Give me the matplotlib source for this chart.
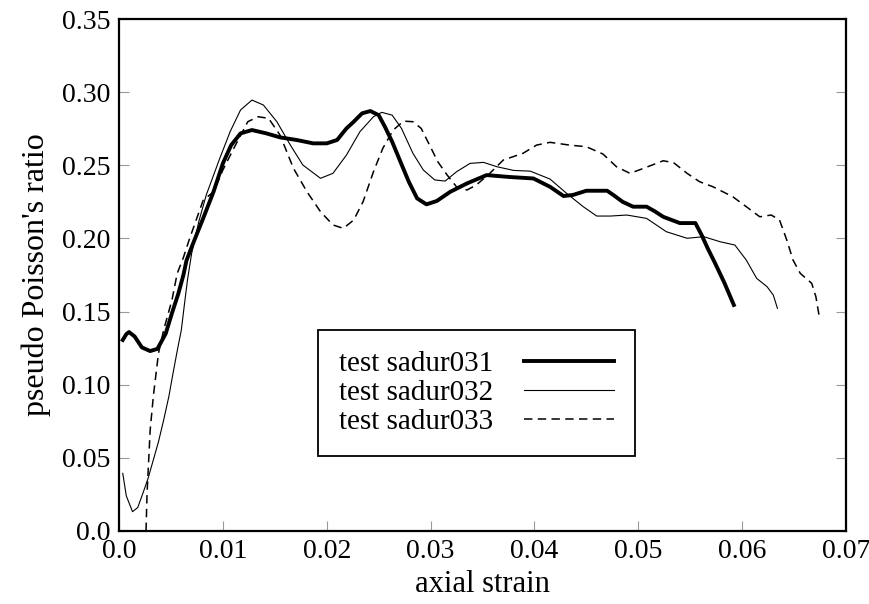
import numpy as np
import matplotlib
matplotlib.use('Agg')
import matplotlib.pyplot as plt

# sadur031 (thick line)
strain_031 = [0.00036, 0.0007, 0.00096, 0.0015, 0.0022, 0.0030, 0.0037, 0.0045, 0.0051,
              0.0057, 0.0062, 0.0065, 0.0072, 0.0081, 0.0091, 0.0100, 0.0108, 0.0117,
              0.0128, 0.0142, 0.0155, 0.0171, 0.0187, 0.0200, 0.0210, 0.0219, 0.0226,
              0.0234, 0.0242, 0.0250, 0.0256, 0.0263, 0.0271, 0.0279, 0.0287, 0.0296,
              0.0306, 0.0319, 0.0335, 0.0354, 0.0376, 0.0399, 0.0415, 0.0428, 0.0437,
              0.0450, 0.0463, 0.0470, 0.0476, 0.0485, 0.0495, 0.0508, 0.0516, 0.0524,
              0.0540, 0.0555, 0.0561, 0.0567, 0.0574, 0.0583, 0.0592]
ratio_031 = [0.1306, 0.1345, 0.1360, 0.1330, 0.1255, 0.1230, 0.1245, 0.1350, 0.1490,
             0.1620, 0.1750, 0.1850, 0.1978, 0.2137, 0.2319, 0.2513, 0.2638, 0.2718,
             0.2741, 0.2718, 0.2691, 0.2673, 0.2650, 0.2650, 0.2673, 0.2752, 0.2798,
             0.2855, 0.2871, 0.2843, 0.2764, 0.2661, 0.2524, 0.2388, 0.2274, 0.2233,
             0.2256, 0.2319, 0.2376, 0.2433, 0.2420, 0.2410, 0.2353, 0.2290, 0.2297,
             0.2326, 0.2326, 0.2326, 0.2297, 0.2250, 0.2217, 0.2217, 0.2185, 0.2148,
             0.2105, 0.2105, 0.2023, 0.1930, 0.1830, 0.1695, 0.1545]

# sadur032 (thin line)
strain_032 = [0.00036, 0.0007, 0.0013, 0.0018, 0.0023, 0.0028, 0.0033, 0.0038, 0.0043,
              0.0048, 0.0052, 0.0056, 0.0060, 0.0063, 0.0066, 0.0070, 0.0077, 0.0084,
              0.0097, 0.0107, 0.0117, 0.0128, 0.0139, 0.0152, 0.0165, 0.0177, 0.0194,
              0.0206, 0.0219, 0.0232, 0.0245, 0.0253, 0.0263, 0.0272, 0.0283, 0.0293,
              0.0304, 0.0314, 0.0325, 0.0338, 0.0351, 0.0364, 0.0380, 0.0396, 0.0415,
              0.0431, 0.0447, 0.0460, 0.0473, 0.0489, 0.0508, 0.0527, 0.0547, 0.0563,
              0.0579, 0.0593, 0.0604, 0.0614, 0.0624, 0.0630, 0.0634]
ratio_032 = [0.0394, 0.0240, 0.0132, 0.0160, 0.0258, 0.0360, 0.0485, 0.0610, 0.0759,
             0.0920, 0.1078, 0.1230, 0.1374, 0.1550, 0.1720, 0.1900, 0.2120, 0.2297,
             0.2547, 0.2730, 0.2878, 0.2946, 0.2912, 0.2798, 0.2638, 0.2502, 0.2411,
             0.2445, 0.2570, 0.2730, 0.2832, 0.2862, 0.2843, 0.2752, 0.2582, 0.2468,
             0.2400, 0.2392, 0.2456, 0.2513, 0.2520, 0.2490, 0.2465, 0.2460, 0.2406,
             0.2308, 0.2217, 0.2153, 0.2153, 0.2160, 0.2137, 0.2046, 0.2001, 0.2012,
             0.1977, 0.1955, 0.1852, 0.1727, 0.1670, 0.1613, 0.1522]

# sadur033 (dashed line)
strain_033 = [0.0026, 0.0027, 0.0030, 0.0033, 0.0038, 0.0043, 0.0051, 0.0056, 0.0062,
              0.0068, 0.0081, 0.0091, 0.0100, 0.0110, 0.0124, 0.0134, 0.0144, 0.0155,
              0.0168, 0.0181, 0.0194, 0.0206, 0.0216, 0.0226, 0.0235, 0.0245, 0.0254,
              0.0264, 0.0274, 0.0283, 0.0291, 0.0299, 0.0307, 0.0316, 0.0325, 0.0335,
              0.0344, 0.0357, 0.0370, 0.0389, 0.0402, 0.0415, 0.0434, 0.0450, 0.0466,
              0.0479, 0.0492, 0.0505, 0.0524, 0.0534, 0.0547, 0.0559, 0.0572, 0.0591,
              0.0604, 0.0617, 0.0628, 0.0636, 0.0643, 0.0649, 0.0656, 0.0667, 0.0671,
              0.0674]
ratio_033 = [0.0000, 0.0258, 0.0690, 0.0918, 0.1215, 0.1374, 0.1580, 0.1760, 0.1870,
             0.2000, 0.2260, 0.2319, 0.2468, 0.2609, 0.2798, 0.2832, 0.2821, 0.2707,
             0.2479, 0.2319, 0.2183, 0.2092, 0.2069, 0.2126, 0.2251, 0.2456, 0.2616,
             0.2741, 0.2802, 0.2798, 0.2752, 0.2638, 0.2524, 0.2433, 0.2353, 0.2331,
             0.2365, 0.2445, 0.2536, 0.2582, 0.2638, 0.2657, 0.2638, 0.2627, 0.2577,
             0.2490, 0.2445, 0.2479, 0.2531, 0.2518, 0.2445, 0.2388, 0.2353, 0.2285,
             0.2217, 0.2148, 0.2160, 0.2126, 0.1989, 0.1852, 0.1761, 0.1693, 0.1602,
             0.1476]

x_ticks = [0.0, 0.01, 0.02, 0.03, 0.04, 0.05, 0.06, 0.07]
x_tick_labels = ['0.0', '0.01', '0.02', '0.03', '0.04', '0.05', '0.06', '0.07']
y_ticks = [0.0, 0.05, 0.10, 0.15, 0.20, 0.25, 0.30, 0.35]
y_tick_labels = ['0.0', '0.05', '0.10', '0.15', '0.20', '0.25', '0.30', '0.35']

plt.rcParams['font.family'] = ['Liberation Serif', 'DejaVu Serif']

fig = plt.figure(figsize=(8.7, 6.04), dpi=100)
ax = fig.add_axes([0.1368, 0.1209, 0.8356, 0.8476])

ax.plot(strain_031, ratio_031, color='black', lw=2.8, label='test sadur031')
ax.plot(strain_032, ratio_032, color='black', lw=0.8, label='test sadur032')
ax.plot(strain_033, ratio_033, color='black', lw=1.1, dashes=(5.5, 3.5), label='test sadur033')

ax.set_xlim(0, 0.07)
ax.set_ylim(0, 0.35)
ax.set_xticks(x_ticks)
ax.set_xticklabels(x_tick_labels)
ax.set_yticks(y_ticks)
ax.set_yticklabels(y_tick_labels)
ax.tick_params(direction='in', length=7, width=0.8, color='#999999',
               labelsize=20, pad=6, right=True, top=False)
for s in ax.spines.values():
    s.set_linewidth(1.6)

ax.set_xlabel('axial strain', fontsize=22, labelpad=4)
ax.set_ylabel("pseudo Poisson's ratio", fontsize=23, labelpad=8)

leg = ax.legend(loc='upper left', bbox_to_anchor=(0.274, 0.3926), borderaxespad=0,
                markerfirst=False, fontsize=21, handlelength=3.1, handletextpad=1.05,
                labelspacing=0.09, fancybox=False, framealpha=1, borderpad=0.72)
leg.get_frame().set_edgecolor('black')
leg.get_frame().set_linewidth(1.3)

fig.savefig('out.png', dpi=100)
